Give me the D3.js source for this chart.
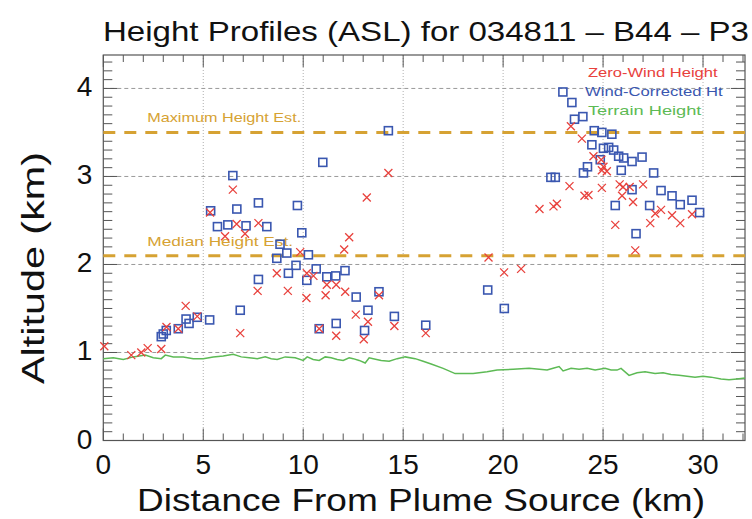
<!DOCTYPE html>
<html>
<head>
<meta charset="utf-8">
<script src="https://cdn.jsdelivr.net/npm/d3@7"></script>
<style>
  body { margin: 0; background: #fff; }
  svg { display: block; font-family: "Liberation Sans", Arial, sans-serif; }
</style>
</head>
<body>
<svg id="chart" width="752" height="519"></svg>
<script>
// Zero-Wind Height points [distance km, altitude km]
const zeroWind = [
  [0.05, 1.07], [1.40, 0.97], [1.90, 1.00], [2.22, 1.05], [2.90, 1.04], [3.16, 1.29],
  [3.75, 1.27], [4.12, 1.53], [4.70, 1.41], [5.34, 2.59], [6.09, 2.32], [6.48, 2.85],
  [6.67, 2.46], [6.85, 1.22], [7.09, 2.35], [7.72, 1.70], [7.76, 2.47], [8.68, 1.90],
  [9.23, 1.70], [9.85, 2.14], [10.16, 1.62], [10.18, 1.90], [10.51, 1.87], [10.80, 1.27],
  [11.12, 1.65], [11.18, 1.77], [11.65, 1.77], [11.65, 1.19], [12.10, 1.69], [12.05, 2.17],
  [12.30, 2.31], [12.63, 1.43], [13.03, 1.15], [13.18, 2.76], [13.24, 1.35], [13.79, 1.65],
  [14.26, 3.04], [14.56, 1.30], [16.13, 1.22], [19.27, 2.08], [20.05, 1.91], [20.90, 1.95],
  [21.82, 2.63], [22.52, 2.66], [22.69, 2.69], [23.32, 2.89], [23.39, 3.57], [23.94, 3.43],
  [24.07, 2.78], [24.27, 2.79], [24.52, 3.23], [24.91, 3.19], [24.94, 2.87], [25.02, 3.11],
  [24.94, 3.07], [25.19, 3.06], [25.61, 2.45], [25.83, 2.91], [25.95, 2.78], [26.00, 2.88],
  [26.33, 2.88], [26.50, 2.71], [26.61, 2.16], [27.00, 2.91], [27.36, 2.47], [27.61, 2.58],
  [27.90, 2.62], [28.45, 2.56], [28.86, 2.47], [29.45, 2.57]
];

// Wind-Corrected Ht points [distance km, altitude km]
const windCorrected = [
  [2.90, 1.18], [3.00, 1.21], [3.15, 1.25], [3.75, 1.27], [4.14, 1.38], [4.29, 1.33],
  [4.70, 1.40], [5.32, 1.37], [5.37, 2.61], [5.71, 2.43], [6.23, 2.45], [6.48, 3.01],
  [6.68, 2.63], [6.85, 1.48], [7.14, 2.44], [7.76, 2.70], [7.76, 1.83], [8.18, 2.43],
  [8.68, 2.07], [8.84, 2.23], [9.18, 2.13], [9.26, 1.90], [9.64, 1.99], [9.71, 2.67],
  [9.93, 2.36], [10.18, 1.82], [10.26, 2.11], [10.65, 1.95], [10.80, 1.27], [10.98, 3.16],
  [11.18, 1.86], [11.63, 1.87], [11.65, 1.33], [12.09, 1.93], [12.65, 1.63], [13.07, 1.25],
  [13.24, 1.48], [13.79, 1.69], [14.26, 3.52], [14.56, 1.41], [16.13, 1.31], [19.23, 1.71],
  [20.06, 1.50], [22.39, 2.99], [22.61, 2.99], [22.99, 3.96], [23.44, 3.84], [23.57, 3.65],
  [23.99, 3.68], [24.02, 3.04], [24.22, 3.11], [24.44, 3.36], [24.56, 3.52], [24.86, 3.19],
  [24.94, 3.50], [25.02, 3.32], [25.28, 3.33], [25.44, 3.48], [25.53, 3.30], [25.61, 2.67],
  [25.78, 3.23], [25.91, 3.07], [26.03, 3.21], [26.45, 3.17], [26.45, 2.85], [26.65, 2.35],
  [26.95, 3.22], [27.33, 2.67], [27.53, 3.04], [27.90, 2.84], [28.45, 2.78], [28.86, 2.68],
  [29.45, 2.73], [29.83, 2.59]
];

// Terrain Height profile [distance km, altitude km]
const terrain = [
  [0.0, 0.93], [0.5, 0.94], [1.0, 0.92], [1.5, 0.95], [2.1, 0.97], [2.5, 0.94], [2.9, 0.93],
  [3.1, 0.97], [3.5, 0.95], [4.0, 0.95], [4.5, 0.93], [5.0, 0.93], [5.5, 0.95], [6.0, 0.96],
  [6.5, 0.98], [6.9, 0.95], [7.3, 0.94], [7.7, 0.93], [8.1, 0.95], [8.4, 0.93], [8.7, 0.92],
  [9.1, 0.95], [9.6, 0.94], [10.0, 0.91], [10.2, 0.95], [10.5, 0.92], [10.8, 0.91],
  [11.1, 0.95], [11.4, 0.94], [11.7, 0.92], [12.0, 0.91], [12.3, 0.94], [12.5, 0.93],
  [12.8, 0.91], [13.1, 0.88], [13.3, 0.94], [13.5, 0.93], [13.9, 0.91], [14.3, 0.90],
  [14.7, 0.93], [15.1, 0.95], [15.6, 0.93], [16.0, 0.90], [16.4, 0.87], [17.0, 0.82],
  [17.6, 0.76], [18.5, 0.76], [19.2, 0.78], [19.7, 0.80], [20.5, 0.81], [21.3, 0.82],
  [22.2, 0.80], [22.5, 0.82], [22.8, 0.84], [23.0, 0.79], [23.4, 0.82], [23.8, 0.81],
  [24.2, 0.82], [24.6, 0.80], [25.1, 0.82], [25.4, 0.80], [25.7, 0.80], [25.9, 0.82],
  [26.3, 0.74], [26.7, 0.77], [27.1, 0.78], [27.6, 0.76], [28.0, 0.77], [28.4, 0.75],
  [28.8, 0.74], [29.2, 0.73], [29.6, 0.72], [30.0, 0.73], [30.4, 0.72], [30.9, 0.70],
  [31.3, 0.69], [31.7, 0.70], [32.1, 0.71]
];

// reference heights
const heightLines = [
  { label: 'Maximum Height Est.', value: 3.5 },
  { label: 'Median Height Est.', value: 2.1 }
];

const legendItems = [
  { label: 'Zero-Wind Height', color: '#e8413c' },
  { label: 'Wind-Corrected Ht', color: '#3a57b0' },
  { label: 'Terrain Height', color: '#5dba55' }
];

const xTicks = [0, 5, 10, 15, 20, 25, 30];
const yTicks = [0, 1, 2, 3, 4];

const width = 752, height = 519;
const margin = { top: 55, right: 7, bottom: 78.5, left: 103.3 };

const svg = d3.select('#chart');

const x = d3.scaleLinear().domain([0, 32.1]).range([margin.left, width - margin.right]);
const y = d3.scaleLinear().domain([0, 4.38]).range([height - margin.bottom, margin.top]);

const x0 = x.range()[0], x1 = x.range()[1];
const y0 = y.range()[0], y1 = y.range()[1];

const axisColor = '#555';
const orange = '#d6a233';

// grid lines
svg.append('g')
  .selectAll('line')
  .data(xTicks.filter((d) => d > 0))
  .join('line')
  .attr('x1', (d) => x(d)).attr('x2', (d) => x(d))
  .attr('y1', y1).attr('y2', y0)
  .attr('stroke', '#9a9a9a')
  .attr('stroke-width', 0.8)
  .attr('stroke-dasharray', '1,2');

svg.append('g')
  .selectAll('line')
  .data(yTicks.filter((d) => d > 0))
  .join('line')
  .attr('x1', x0).attr('x2', x1)
  .attr('y1', (d) => y(d)).attr('y2', (d) => y(d))
  .attr('stroke', '#9a9a9a')
  .attr('stroke-width', 1)
  .attr('stroke-dasharray', '4,3');

// axes with IDL-style ticks on all four sides
const xMinor = d3.range(0, 33, 1);
const yMinor = d3.range(0, 44, 1).map((d) => d / 10);

const ticks = svg.append('g').attr('stroke', axisColor).attr('stroke-width', 1);

xMinor.forEach((d) => {
  const len = d % 5 === 0 ? 12 : 7;
  ticks.append('line').attr('x1', x(d)).attr('x2', x(d)).attr('y1', y0).attr('y2', y0 - len);
  ticks.append('line').attr('x1', x(d)).attr('x2', x(d)).attr('y1', y1).attr('y2', y1 + len);
});

yMinor.forEach((d) => {
  const len = Math.round(d * 10) % 10 === 0 ? 14 : 9;
  ticks.append('line').attr('x1', x0).attr('x2', x0 + len).attr('y1', y(d)).attr('y2', y(d));
  ticks.append('line').attr('x1', x1).attr('x2', x1 - len).attr('y1', y(d)).attr('y2', y(d));
});

svg.append('rect')
  .attr('x', x0).attr('y', y1)
  .attr('width', x1 - x0).attr('height', y0 - y1)
  .attr('fill', 'none')
  .attr('stroke', axisColor)
  .attr('stroke-width', 1.2);

// tick labels
svg.append('g')
  .selectAll('text')
  .data(xTicks)
  .join('text')
  .attr('x', (d) => x(d))
  .attr('y', y0 + 33)
  .attr('text-anchor', 'middle')
  .attr('font-size', 28)
  .attr('fill', '#111')
  .text((d) => d);

svg.append('g')
  .selectAll('text')
  .data(yTicks)
  .join('text')
  .attr('x', x0 - 11)
  .attr('y', (d) => y(d) + 8)
  .attr('text-anchor', 'end')
  .attr('font-size', 28)
  .attr('fill', '#111')
  .text((d) => d);

// titles
svg.append('text')
  .attr('x', 103)
  .attr('y', 41)
  .attr('font-size', 28)
  .attr('fill', '#111')
  .attr('textLength', 646)
  .attr('lengthAdjust', 'spacingAndGlyphs')
  .text('Height Profiles (ASL) for 034811 \u2013 B44 \u2013 P3');

svg.append('text')
  .attr('x', 421)
  .attr('y', 511)
  .attr('text-anchor', 'middle')
  .attr('font-size', 31)
  .attr('fill', '#111')
  .attr('textLength', 568)
  .attr('lengthAdjust', 'spacingAndGlyphs')
  .text('Distance From Plume Source (km)');

svg.append('text')
  .attr('transform', 'translate(44,268) rotate(-90)')
  .attr('text-anchor', 'middle')
  .attr('font-size', 31)
  .attr('fill', '#111')
  .attr('textLength', 232)
  .attr('lengthAdjust', 'spacingAndGlyphs')
  .text('Altitude (km)');

// terrain line
const line = d3.line().x((d) => x(d[0])).y((d) => y(d[1]));

svg.append('path')
  .datum(terrain)
  .attr('d', line)
  .attr('fill', 'none')
  .attr('stroke', legendItems[2].color)
  .attr('stroke-width', 1.5);

// height estimate lines
heightLines.forEach((h) => {
  svg.append('line')
    .attr('x1', x0).attr('x2', x1)
    .attr('y1', y(h.value)).attr('y2', y(h.value))
    .attr('stroke', orange)
    .attr('stroke-width', 3)
    .attr('stroke-dasharray', '12,9');
  svg.append('text')
    .attr('x', x(2.2))
    .attr('y', y(h.value) - 10)
    .attr('font-size', 13)
    .attr('fill', orange)
    .attr('textLength', h.label.length * 8.1)
    .attr('lengthAdjust', 'spacingAndGlyphs')
    .text(h.label);
});

// wind corrected squares
svg.append('g')
  .selectAll('rect')
  .data(windCorrected)
  .join('rect')
  .attr('x', (d) => x(d[0]) - 4)
  .attr('y', (d) => y(d[1]) - 4)
  .attr('width', 8)
  .attr('height', 8)
  .attr('fill', 'none')
  .attr('stroke', legendItems[1].color)
  .attr('stroke-width', 1.6);

// zero wind crosses
const cross = svg.append('g')
  .attr('stroke', legendItems[0].color)
  .attr('stroke-width', 1.3);

zeroWind.forEach((d) => {
  const cx = x(d[0]), cy = y(d[1]);
  cross.append('path')
    .attr('d', `M${cx - 4},${cy - 4}L${cx + 4},${cy + 4}M${cx - 4},${cy + 4}L${cx + 4},${cy - 4}`);
});

// legend
svg.append('g')
  .selectAll('text')
  .data(legendItems)
  .join('text')
  .attr('x', (d, i) => (i === 1 ? 585 : 588))
  .attr('y', (d, i) => 77 + i * 19)
  .attr('font-size', 13)
  .attr('fill', (d) => d.color)
  .attr('textLength', (d) => d.label.length * 8.1)
  .attr('lengthAdjust', 'spacingAndGlyphs')
  .text((d) => d.label);
</script>
</body>
</html>
